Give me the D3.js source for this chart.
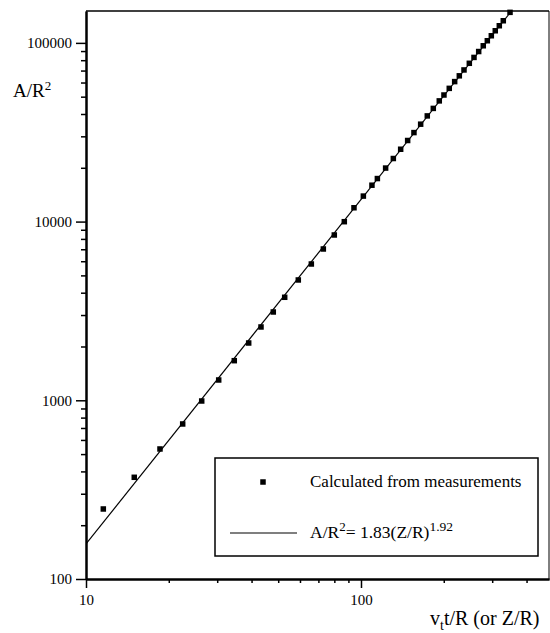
<!DOCTYPE html>
<html>
<head>
<meta charset="utf-8">
<script src="https://cdn.jsdelivr.net/npm/d3@7"></script>
<style>
  html, body { margin: 0; padding: 0; background: #fff; }
  svg { display: block; }
  svg text { font-family: "Liberation Serif", "Times New Roman", serif; fill: #000; }
</style>
</head>
<body>
<svg id="chart" width="550" height="633"></svg>
<script>
'use strict';

// measured points (Z/R, A/R^2)
const zr = [11.56, 14.98, 18.58, 22.47, 26.35, 30.38, 34.61, 39.05, 43.29, 47.98,
  52.79, 59.16, 65.98, 72.95, 79.97, 86.96, 94.3, 102.0, 109.6, 114.7,
  122.9, 131.1, 139.4, 147.8, 155.8, 164.8, 174.2, 183.2, 192.6, 200.3,
  209.4, 219.1, 227.8, 236.9, 247.7, 257.6, 267.9, 278.4, 288.0, 297.8,
  307.8, 318.4, 329.2, 348.3];
const ar = [246.5, 370.8, 534, 737, 991, 1299, 1666, 2092, 2572, 3120,
  3771, 4713, 5790, 7025, 8414, 9986, 11950, 13890, 15980, 17410,
  19930, 22540, 25400, 28430, 31480, 35080, 39030, 42990, 47360, 51090,
  55660, 60720, 65410, 70560, 76880, 82920, 89460, 96340, 102800, 109600,
  116900, 124700, 133000, 148200];

// fit as printed in the legend
const fitCoef = 1.83, fitExp = 1.92;
// fit line as drawn on the plot (end points)
const fitLineX = [10, 352.6];
const fitLineY = [157, 150800];

const xMajor = [10, 100];
const xMinor = [20, 30, 40, 50, 60, 70, 80, 90, 200, 300, 400];
const yMajor = [100, 1000, 10000, 100000];
const yMinor = [200, 300, 400, 500, 600, 700, 800, 900,
  2000, 3000, 4000, 5000, 6000, 7000, 8000, 9000,
  20000, 30000, 40000, 50000, 60000, 70000, 80000, 90000];

const legendLabels = ['Calculated from measurements', 'A/R'];

const L = 86, R = 549, T = 11, B = 579;
const svg = d3.select('#chart');

const x = d3.scaleLog().domain([10, 482.7]).range([L, R]);
const y = d3.scaleLog().domain([100, 150800]).range([B, T]);

// frame (top & right)
svg.append('line').attr('x1', L).attr('x2', R).attr('y1', T).attr('y2', T)
  .attr('stroke', '#000').attr('stroke-width', 1.5);
svg.append('line').attr('x1', R).attr('x2', R).attr('y1', T).attr('y2', B)
  .attr('stroke', '#000').attr('stroke-width', 1);

// axes
function styleAxis(g, labels) {
  g.attr('font-family', null);
  g.select('.domain').attr('stroke', '#000').attr('stroke-width', 2);
  g.selectAll('.tick line').attr('stroke', '#000').attr('stroke-width', 1.5);
  g.selectAll('.tick text').attr('fill', '#000').style('font-size', '15px');
  if (!labels) g.selectAll('.tick text').remove();
}

svg.append('g').attr('transform', `translate(0,${B})`)
  .call(d3.axisBottom(x).tickValues(xMinor).tickSize(4).tickSizeOuter(0))
  .call(g => styleAxis(g, false));
svg.append('g').attr('transform', `translate(0,${B})`)
  .call(d3.axisBottom(x).tickValues(xMajor).tickSize(9).tickSizeOuter(0).tickPadding(6).tickFormat(d3.format('d')))
  .call(g => styleAxis(g, true));

svg.append('g').attr('transform', `translate(${L},0)`)
  .call(d3.axisLeft(y).tickValues(yMinor).tickSize(5).tickSizeOuter(0))
  .call(g => styleAxis(g, false));
svg.append('g').attr('transform', `translate(${L},0)`)
  .call(d3.axisLeft(y).tickValues(yMajor).tickSize(10).tickSizeOuter(0).tickPadding(4).tickFormat(d3.format('d')))
  .call(g => styleAxis(g, true));

// fit line, clipped to plot area
svg.append('clipPath').attr('id', 'clip')
  .append('rect').attr('x', L).attr('y', T).attr('width', R - L).attr('height', B - T);
const line = d3.line().x(d => x(d[0])).y(d => y(d[1]));
svg.append('path').datum(d3.zip(fitLineX, fitLineY)).attr('d', line).attr('clip-path', 'url(#clip)')
  .attr('fill', 'none').attr('stroke', '#000').attr('stroke-width', 1.2);

// points
const ms = 5.5;
svg.append('g').selectAll('rect').data(zr).join('rect')
  .attr('x', d => x(d) - ms / 2)
  .attr('y', (d, i) => y(ar[i]) - ms / 2)
  .attr('width', ms).attr('height', ms).attr('fill', '#000');

// axis titles
const yt = svg.append('text').attr('x', 13).attr('y', 97).style('font-size', '19px');
yt.append('tspan').text('A/R');
yt.append('tspan').attr('dy', -7).style('font-size', '13px').text('2');

const xt = svg.append('text').attr('x', 430).attr('y', 625).style('font-size', '20px');
xt.append('tspan').text('v');
xt.append('tspan').attr('dy', 5).style('font-size', '14px').text('t');
xt.append('tspan').attr('dy', -5).text('t/R (or Z/R)');

// legend
const lg = svg.append('g');
lg.append('rect').attr('x', 215).attr('y', 458).attr('width', 323).attr('height', 98)
  .attr('fill', '#fff').attr('stroke', '#000').attr('stroke-width', 1.5);
lg.append('rect').attr('x', 263 - ms / 2).attr('y', 482 - ms / 2).attr('width', ms).attr('height', ms).attr('fill', '#000');
lg.append('text').attr('x', 310).attr('y', 487).style('font-size', '17px').text(legendLabels[0]);
lg.append('line').attr('x1', 230).attr('x2', 297).attr('y1', 533).attr('y2', 533)
  .attr('stroke', '#000').attr('stroke-width', 1.2);
const eq = lg.append('text').attr('x', 310).attr('y', 538).style('font-size', '17.5px');
eq.append('tspan').text(legendLabels[1]);
eq.append('tspan').attr('dy', -7).style('font-size', '13px').text('2');
eq.append('tspan').attr('dy', 7).text(`= ${fitCoef}(Z/R)`);
eq.append('tspan').attr('dy', -7).style('font-size', '13.5px').text(fitExp.toFixed(2));
</script>
</body>
</html>
